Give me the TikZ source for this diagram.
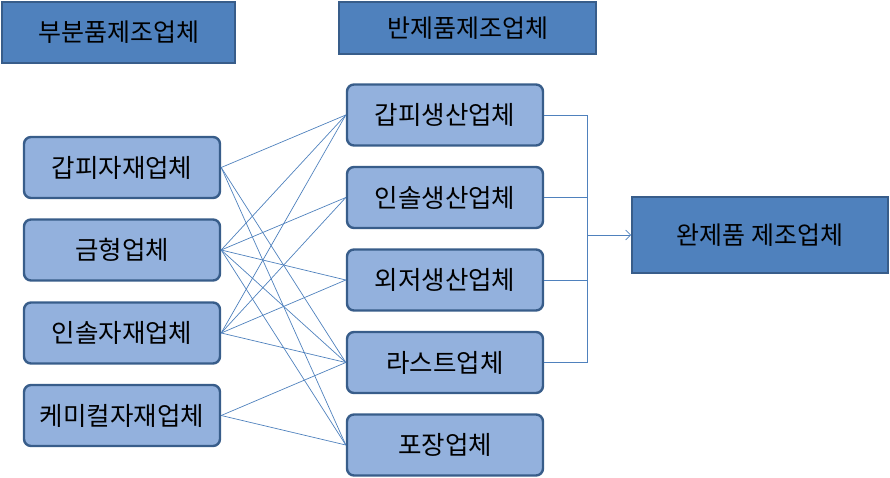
\documentclass[tikz,border=0pt]{standalone}
\usepackage{fontspec}
\setmainfont{Noto Sans CJK KR}
\usepackage{xcolor}
\usepackage{tikz}
\usetikzlibrary{arrows.meta}

\definecolor{hdblue}{HTML}{4F81BD}
\definecolor{edgeblue}{HTML}{385D8A}
\definecolor{lightblue}{HTML}{93B1DD}

\begin{document}
\begin{tikzpicture}[x=1pt,y=-1pt,
	header/.style={draw=edgeblue,line width=1.6pt,fill=hdblue,inner sep=0pt,
		font=\fontsize{25}{30}\selectfont},
	firm/.style={draw=edgeblue,line width=2.4pt,fill=lightblue,rounded corners=7pt,
		minimum width=196pt,minimum height=61pt,inner sep=0pt,
		font=\fontsize{25.5}{30}\selectfont},
	link/.style={draw=hdblue,line width=0.7pt}]
	\useasboundingbox (0,0) rectangle (890,478);
	
	\node[header,minimum width=233pt,minimum height=61pt] (parts) at (118.5,32.5) {부분품제조업체};
	\node[header,minimum width=257pt,minimum height=52pt] (semi) at (467.5,28) {반제품제조업체};
	\node[header,minimum width=256pt,minimum height=76pt] (final) at (760,235) {완제품 제조업체};
	
	\node[firm] (upperm) at (122,167.5) {갑피자재업체};
	\node[firm] (mold) at (122,250) {금형업체};
	\node[firm] (insolem) at (122,333) {인솔자재업체};
	\node[firm] (chem) at (122,415.5) {케미컬자재업체};
	
	\node[firm] (upperp) at (445,115) {갑피생산업체};
	\node[firm] (insolep) at (445,197.5) {인솔생산업체};
	\node[firm] (outsole) at (445,280) {외저생산업체};
	\node[firm] (last) at (445,362.5) {라스트업체};
	\node[firm] (pack) at (445,445) {포장업체};
	
	\draw[link] (upperm.east) -- (upperp.west);
	\draw[link] (upperm.east) -- (last.west);
	\draw[link] (upperm.east) -- (pack.west);
	
	\draw[link] (mold.east) -- (upperp.west);
	\draw[link] (mold.east) -- (insolep.west);
	\draw[link] (mold.east) -- (outsole.west);
	\draw[link] (mold.east) -- (last.west);
	\draw[link] (mold.east) -- (pack.west);
	
	\draw[link] (insolem.east) -- (upperp.west);
	\draw[link] (insolem.east) -- (insolep.west);
	\draw[link] (insolem.east) -- (outsole.west);
	\draw[link] (insolem.east) -- (last.west);
	
	\draw[link] (chem.east) -- (last.west);
	\draw[link] (chem.east) -- (pack.west);
	
	\coordinate (bus) at (587,235);
	\draw[link] (upperp.east) -| (bus);
	\draw[link] (insolep.east) -| (bus);
	\draw[link] (outsole.east) -| (bus);
	\draw[link] (last.east) -| (bus);
	\draw[link,-{Straight Barb[length=5pt,width=10pt]}] (bus) -- (final.west);
\end{tikzpicture}
\end{document}
